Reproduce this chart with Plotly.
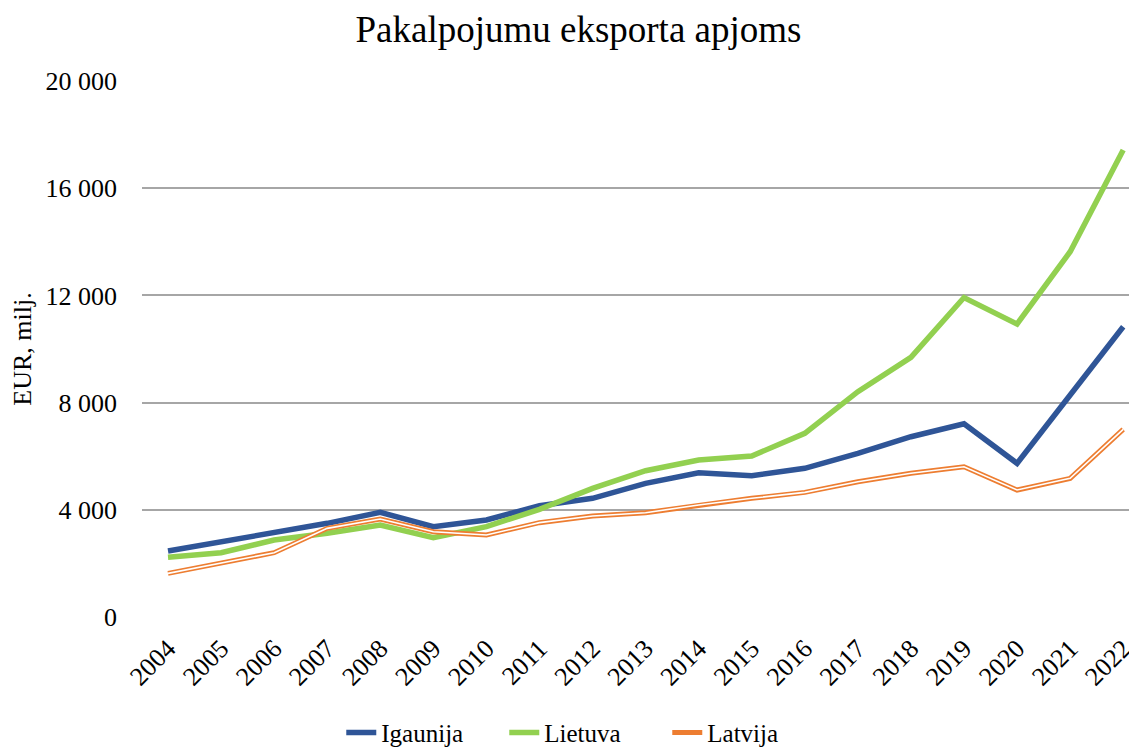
import plotly.graph_objects as go

years = [str(y) for y in range(2004, 2023)]
igaunija = [2462, 2811, 3122, 3495, 3906, 3370, 3619, 4150, 4428, 4988, 5385, 5273,
            5547, 6107, 6727, 7210, 5733, 8268, 10831]
lietuva = [2226, 2400, 2873, 3122, 3432, 2960, 3370, 4018, 4801, 5459, 5858, 6007,
           6853, 8407, 9689, 11920, 10932, 13630, 17424]
latvija = [1629, 2003, 2400, 3308, 3656, 3183, 3059, 3520, 3768, 3892, 4179, 4428,
           4650, 5049, 5361, 5608, 4738, 5174, 7003]

y_tickvals = [0, 4000, 8000, 12000, 16000, 20000]
y_ticktext = ["0", "4 000", "8 000", "12 000", "16 000", "20 000"]

FONT = "Liberation Serif, Times New Roman, serif"

fig = go.Figure()
fig.add_trace(go.Scatter(x=years, y=igaunija, name="Igaunija", mode="lines",
                         line=dict(color="#2F5597", width=5.5)))
fig.add_trace(go.Scatter(x=years, y=lietuva, name="Lietuva", mode="lines",
                         line=dict(color="#92D050", width=5.5)))
fig.add_trace(go.Scatter(x=years, y=latvija, name="Latvija", mode="lines",
                         line=dict(color="#ED7D31", width=5)))
fig.add_trace(go.Scatter(x=years, y=latvija, name="Latvija", mode="lines",
                         showlegend=False, hoverinfo="skip",
                         line=dict(color="white", width=1.6)))

fig.update_layout(
    width=1129, height=739,
    paper_bgcolor="white", plot_bgcolor="white",
    margin=dict(l=134, r=0, t=73, b=130, autoexpand=False),
    font=dict(family=FONT, color="black", size=26),
    title=dict(text="Pakalpojumu eksporta apjoms", x=0.5053, xref="container",
               xanchor="center", y=0.972, yref="container", yanchor="middle",
               font=dict(family=FONT, size=37, color="black")),
    xaxis=dict(type="category", range=[-0.49, 18.26], tickangle=-45,
               showgrid=False, showline=False, zeroline=False, ticks="",
               ticklabelstandoff=10, automargin=False,
               tickfont=dict(family=FONT, size=26, color="black")),
    yaxis=dict(range=[0, 20000], tickvals=y_tickvals, ticktext=y_ticktext,
               showgrid=True, gridcolor="#a6a6a6", gridwidth=1.5,
               zeroline=False, showline=False, ticks="",
               ticklabelstandoff=24, automargin=False,
               tickfont=dict(family=FONT, size=26, color="black"),
               title=dict(text="EUR, milj.", standoff=8,
                          font=dict(family=FONT, size=26, color="black"))),
    legend=dict(orientation="h", x=0.446, xanchor="center", y=-0.216,
                yanchor="middle", font=dict(family=FONT, size=25, color="black"),
                entrywidth=118, entrywidthmode="pixels",
                bgcolor="rgba(0,0,0,0)"),
    showlegend=True,
)

fig.write_html("out.html")
